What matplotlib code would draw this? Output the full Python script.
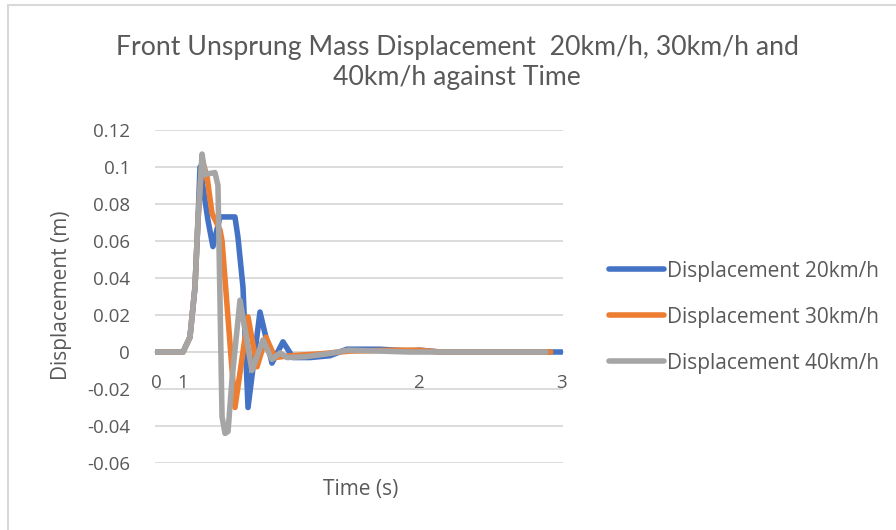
import matplotlib
matplotlib.use("Agg")
import matplotlib.pyplot as plt
from matplotlib.patches import Rectangle

# time (s) and displacement (m) for each road speed
t_20 = [0, 0.206, 0.257, 0.294, 0.316, 0.331, 0.390, 0.426, 0.478, 0.588, 0.610,
        0.647, 0.684, 0.772, 0.860, 0.941, 1.015, 1.140, 1.287, 1.410, 1.654,
        1.875, 1.949, 2.096, 2.99]
d_20 = [0, 0, 0.008, 0.035, 0.071, 0.100, 0.071, 0.057, 0.073, 0.073, 0.062,
        0.035, -0.030, 0.0216, -0.006, 0.0055, -0.003, -0.003, -0.002, 0.0015, 0.0015,
        0.0005, 0.001, 0, 0]

t_30 = [0, 0.206, 0.257, 0.294, 0.316, 0.346, 0.382, 0.419, 0.478, 0.493, 0.588,
        0.684, 0.750, 0.816, 0.882, 0.993, 1.213, 1.434, 1.801, 1.930, 2.096, 2.91]
d_30 = [0, 0, 0.008, 0.035, 0.071, 0.104, 0.095, 0.075, 0.066, 0.060, -0.030,
        0.019, -0.008, 0.008, -0.003, -0.002, -0.001, 0.0005, 0.001, 0.001, 0, 0]

t_40 = [0, 0.206, 0.257, 0.294, 0.316, 0.346, 0.368, 0.441, 0.463, 0.493, 0.515,
        0.537, 0.566, 0.625, 0.713, 0.794, 0.860, 0.919, 0.971, 1.110, 1.265,
        1.419, 1.654, 1.875, 2.875]
d_40 = [0, 0, 0.008, 0.035, 0.071, 0.107, 0.096, 0.097, 0.090, -0.035, -0.044,
        -0.043, -0.015, 0.028, -0.010, 0.0065, -0.004, -0.0005, -0.003, -0.0025, -0.001,
        0.001, 0.0005, 0, 0]

series = [
    (t_20, d_20, "Displacement 20km/h", "#4472C4"),
    (t_30, d_30, "Displacement 30km/h", "#ED7D31"),
    (t_40, d_40, "Displacement 40km/h", "#A5A5A5"),
]

x_ticks = [0.01, 0.205, 1.94, 2.99]
x_tick_labels = ["0", "1", "2", "3"]
y_ticks = [-0.06, -0.04, -0.02, 0, 0.02, 0.04, 0.06, 0.08, 0.1, 0.12]
y_tick_labels = ["-0.06", "-0.04", "-0.02", "0", "0.02", "0.04", "0.06", "0.08", "0.1", "0.12"]

text_col = "#595959"
grid_col = "#D9D9D9"
font = "Open Sans"

fig = plt.figure(figsize=(8.96, 5.30), dpi=100)
fig.patches.append(Rectangle((7.5 / 896, -0.1), 1.2, 1.1 - 4.5 / 530,
                             transform=fig.transFigure, fill=False,
                             edgecolor="#D9D9D9", linewidth=1.5))

ax = fig.add_axes([155 / 896, 1 - 463 / 530, 408 / 896, 333 / 530])
for t, d, name, col in series:
    ax.plot(t, d, color=col, linewidth=4.0, solid_capstyle="round",
            solid_joinstyle="round", label=name, zorder=3)

ax.set_xlim(0, 3)
ax.set_ylim(-0.06, 0.12)
ax.set_yticks(y_ticks)
ax.set_yticklabels(y_tick_labels)
ax.set_xticks(x_ticks)
ax.set_xticklabels(x_tick_labels)
ax.grid(axis="y", color=grid_col, linewidth=1.3)
ax.set_axisbelow(True)

for s in ["top", "right", "left"]:
    ax.spines[s].set_visible(False)
ax.spines["bottom"].set_position(("data", 0))
ax.spines["bottom"].set_color(grid_col)
ax.spines["bottom"].set_linewidth(1.3)
ax.spines["bottom"].set_zorder(1)

ax.tick_params(axis="both", length=0, labelsize=13.5, labelcolor=text_col)
ax.tick_params(axis="x", pad=16)
ax.tick_params(axis="y", pad=18)
for lab in ax.get_xticklabels() + ax.get_yticklabels():
    lab.set_fontfamily(font)

fig.text(61 / 896, 1 - 295 / 530, "Displacement (m)", rotation=90, ha="center",
         va="center", fontsize=15, color=text_col, family=font)
fig.text(361 / 896, 1 - 489 / 530, "Time (s)", ha="center", va="center",
         fontsize=15, color=text_col, family=font)
fig.text(457 / 896, 1 - 62 / 530,
         "Front Unsprung Mass Displacement  20km/h, 30km/h and\n40km/h against Time",
         ha="center", va="center", fontsize=19.2, color=text_col, family="Lato",
         linespacing=1.25)

fig.legend(loc="center left", bbox_to_anchor=(590 / 896, 1 - 317 / 530),
           frameon=False, handlelength=2.65, handletextpad=0.15, labelspacing=1.2,
           prop={"family": font, "size": 15}, labelcolor=text_col)

fig.savefig("out.png", dpi=100)
